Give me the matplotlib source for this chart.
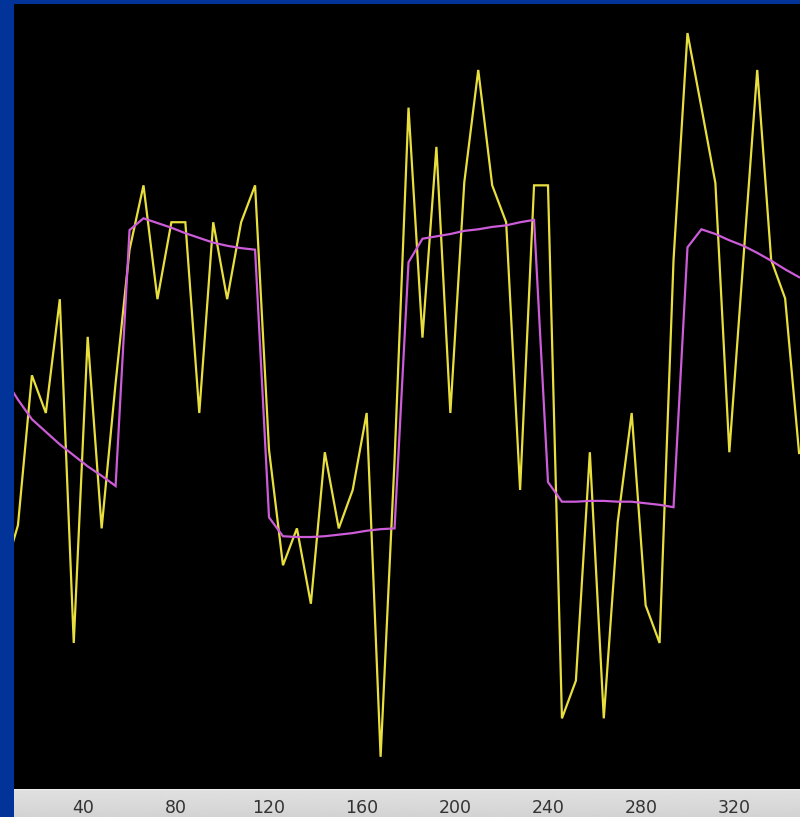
import numpy as np
import matplotlib
matplotlib.use("Agg")
import matplotlib.pyplot as plt

# Sample positions (every 6 units)
x = np.arange(6, 349, 6)

# Raw signal (yellow trace)
signal = [
    27.5, 33.6, 52.7, 47.9, 62.4, 18.6, 57.6, 33.2, 51.7,
    68.7, 76.9, 62.4, 72.2, 72.2, 47.9, 72.2, 62.4, 72.2, 76.9,
    43.2, 28.5, 33.2, 23.6, 42.9, 33.2, 38.1, 47.9, 4.1, 41.9,
    86.8, 57.5, 81.8, 47.9, 77.3, 91.6, 76.9, 72.2, 38.1, 76.9,
    76.9, 9.0, 13.8, 42.9, 9.0, 34.0, 47.9, 23.4, 18.6, 67.4,
    96.3, 86.8, 77.2, 42.9, 67.3, 91.6, 67.4, 62.5, 42.8,
]

# Block-wise smoothed estimate (magenta trace)
smoothed = [
    52.4, 49.6, 47.1, 45.5, 43.9, 42.5, 41.1, 39.9, 38.6,
    71.2, 72.7, 72.1, 71.5, 70.8, 70.2, 69.6, 69.2, 68.9, 68.7,
    34.6, 32.2, 32.1, 32.1, 32.2, 32.4, 32.6, 32.9, 33.1, 33.2,
    67.1, 70.1, 70.4, 70.7, 71.1, 71.3, 71.6, 71.8, 72.2, 72.5,
    39.1, 36.6, 36.6, 36.7, 36.7, 36.6, 36.6, 36.4, 36.2, 35.9,
    69.0, 71.3, 70.7, 69.9, 69.2, 68.3, 67.3, 66.2, 65.2,
]

tick_values = [40, 80, 120, 160, 200, 240, 280, 320]
tick_labels = [str(t) for t in tick_values]

W, H = 800, 817
fig = plt.figure(figsize=(W / 100, H / 100), dpi=100)
fig.patch.set_facecolor("#023399")

left, top, bottom = 14, 4, 789
ax = fig.add_axes([left / W, (H - bottom) / H, (W - left) / W, (bottom - top) / H])
ax.set_facecolor("black")

# Grey strip under the plot that carries the tick labels
bar = fig.add_axes([left / W, 0, (W - left) / W, (H - bottom) / H])
bar.set_zorder(-1)
grad = np.linspace(0.0, 1.0, 28)[:, None]
shade = 0.88 - 0.05 * grad
shade[0] = 0.93
bar.imshow(np.repeat(shade, 2, axis=1), cmap="gray", vmin=0, vmax=1,
           aspect="auto", extent=[0, 1, 0, 1], interpolation="bilinear")
bar.set_axis_off()

ax.plot(x, signal, color="#e8df3e", lw=1.6, solid_joinstyle="miter")
ax.plot(x, smoothed, color="#cc5cd8", lw=1.6, solid_joinstyle="miter")

ax.set_xlim(10.3, 348.4)
ax.set_ylim(0, 100)
ax.set_yticks([])
ax.set_xticks(tick_values)
ax.set_xticklabels(tick_labels)
ax.tick_params(axis="x", length=0, pad=7, labelsize=12.5, labelcolor="#333333")
for s in ax.spines.values():
    s.set_visible(False)

fig.savefig("out.png", dpi=100, facecolor=fig.get_facecolor())
